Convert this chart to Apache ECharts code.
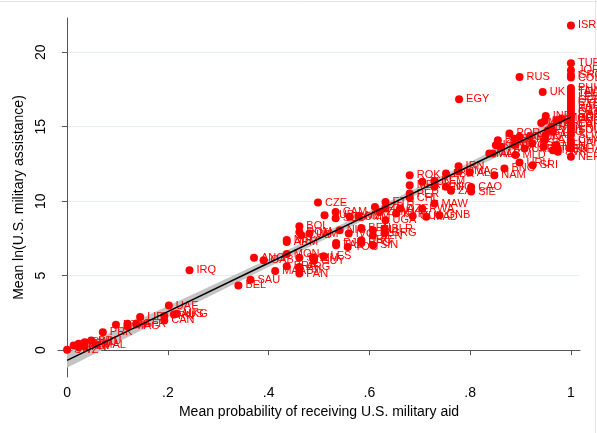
<!DOCTYPE html>
<html>
<head>
<meta charset="utf-8">
<script src="https://cdn.jsdelivr.net/npm/echarts@6/dist/echarts.min.js"></script>
<style>
html,body{margin:0;padding:0;background:#fff}
#chart{width:597px;height:433px}
</style>
</head>
<body>
<div id="chart"></div>
<script>
// country codes, mean probability of aid, mean ln(aid)
var codes = [
	"SWZ","AUL","NEW","JPN","SWD","FIN","BRU","MAL","PRK","NTH",
	"ITA","MAG","GFR","LIB","FRN","CAN","UAE","AUS","UKG","IRQ",
	"BEL","SAU","ANG","GAB","MAA","BRA","MON","ARM","NIR","BOL",
	"DOM","CUB","JAM","SYR","ARG","FJI","PAN","ZIM","GUY","LES",
	"CZE","SUR","CAM","SUD","TAZ","DJI","NIC","TOG","IVO","SOM",
	"MZM","BEN","DRC","BFO","MLI","SEN","SIN","UZB","ZAM","BLR",
	"GRG","ETH","LAO","UGA","KYR","AZE","ROK","MEX","PER","CHL",
	"GUI","TUN","RWA","MAD","YEM","KEN","MAW","GNB","LBR","NIG",
	"ZAI","IRN","OMA","ALG","CAO","SIE","NAM","MAC","ALB","KZK",
	"BUL","ROM","POR","SPN","CRO","POL","MLD","UKR","HUN","EST",
	"URU","SRI","BNG","EGY","RUS","UK","IND","INS","MYA","ECU",
	"PAK","LAT","LIT","HON","GUA","MOR","YUG","TAJ","SVK","VEN",
	"ISR","TUR","JOR","GRC","COL","PHI","TAW","THI","LEB","GEO",
	"CYP","BAH","KUW","QAT","SRB","BOS","PNG","CAP","ERI","SOL",
	"SLV","CHA","HAI","GHA","NER","CEN"
];
var meanProb = [
	0.000,0.013,0.023,0.023,0.035,0.035,0.048,0.058,0.071,0.097,
	0.120,0.120,0.137,0.145,0.193,0.193,0.202,0.212,0.218,0.243,
	0.340,0.364,0.371,0.390,0.413,0.436,0.436,0.436,0.436,0.461,
	0.461,0.465,0.481,0.461,0.461,0.461,0.461,0.488,0.490,0.509,
	0.498,0.511,0.533,0.533,0.534,0.534,0.541,0.557,0.559,0.561,
	0.578,0.584,0.584,0.584,0.607,0.607,0.607,0.611,0.620,0.630,
	0.630,0.632,0.632,0.632,0.653,0.661,0.680,0.680,0.680,0.680,
	0.686,0.705,0.705,0.713,0.729,0.729,0.729,0.739,0.752,0.752,
	0.762,0.777,0.777,0.799,0.802,0.802,0.848,0.838,0.845,0.851,
	0.855,0.862,0.878,0.888,0.888,0.898,0.890,0.908,0.918,0.923,
	0.898,0.924,0.868,0.778,0.898,0.944,0.950,0.948,0.941,0.954,
	0.950,0.948,0.946,0.961,0.971,0.981,0.964,0.964,0.974,0.971,
	1,1,1,1,1,1,1,1,1,1,
	1,1,1,1,1,1,1,1,1,1,
	1,1,1,1,1,0.974
];
var meanLnAid = [
	0.03,0.31,0.43,0.20,0.54,0.25,0.65,0.38,1.21,1.71,
	1.77,1.60,1.75,2.22,2.29,2.00,3.00,2.40,2.44,5.36,
	4.35,4.73,6.21,6.03,5.31,5.63,6.45,7.26,7.40,8.32,
	7.94,7.71,7.83,6.21,5.58,5.41,5.14,6.21,6.00,6.30,
	9.91,9.06,9.28,8.85,7.04,7.20,8.05,6.93,7.83,8.95,
	9.00,8.20,7.38,7.20,8.05,7.70,7.04,9.62,9.28,8.16,
	7.85,9.95,9.51,8.72,9.17,9.51,11.75,11.08,10.52,10.25,
	9.00,11.30,9.50,8.95,11.36,10.97,9.84,9.06,11.86,10.97,
	10.70,12.35,12.00,11.93,10.96,10.65,11.75,13.20,13.20,13.75,
	14.10,13.65,14.55,14.20,13.77,14.33,13.10,13.54,14.33,13.88,
	12.60,12.42,12.20,16.84,18.34,17.33,15.72,15.40,15.25,14.77,
	14.44,14.10,13.65,15.00,15.44,15.56,14.66,13.43,13.32,13.77,
	21.80,19.26,18.80,18.47,18.30,17.60,17.40,17.20,17.00,16.80,
	16.60,16.40,16.20,16.00,15.80,15.60,15.40,15.20,15.00,14.80,
	14.44,14.10,13.88,13.54,12.98,13.50
];

// linear fit and 95% CI
var fitX = [0, 0.2, 0.4, 0.6, 0.8, 1];
var fitY = [-0.68, 2.59, 5.85, 9.12, 12.38, 15.65];
var fitLower = [-1.18, 2.22, 5.58, 8.90, 12.13, 15.25];
var fitUpper = [-0.18, 2.96, 6.12, 9.34, 12.63, 16.05];

var xTicks = [0, 0.2, 0.4, 0.6, 0.8, 1];
var yTicks = [0, 5, 10, 15, 20];

var fontName = "'Liberation Sans', Arial, sans-serif";

var myChart = echarts.init(document.getElementById("chart"), null, {renderer: "canvas"});

function fmtX(v){
	if(v === 0) return "0";
	if(v === 1) return "1";
	return String(+v.toFixed(1)).replace(/^0/, "");
}

var points = codes.map(function(c, i){
	return [meanProb[i], meanLnAid[i], c];
});

var option = {
	backgroundColor: "#fff",
	animation: false,
	textStyle: {fontFamily: fontName},
	graphic: [
		{type: "line", shape: {x1: 0, y1: 1.5, x2: 597, y2: 1.5}, style: {stroke: "#e6e6e6", lineWidth: 1}},
		{type: "line", shape: {x1: 595.5, y1: 0, x2: 595.5, y2: 433}, style: {stroke: "#e6e6e6", lineWidth: 1}}
	],
	grid: {left: 58, top: 18, right: 17, bottom: 56},
	xAxis: {
		type: "value",
		min: -0.018,
		max: 1.018,
		name: "Mean probability of receiving U.S. military aid",
		nameLocation: "middle",
		nameGap: 27,
		nameTextStyle: {color: "#000", fontSize: 14, fontFamily: fontName},
		axisLine: {show: true, lineStyle: {color: "#555", width: 1}},
		axisTick: {show: true, length: 5, customValues: xTicks, lineStyle: {color: "#555"}},
		axisLabel: {customValues: xTicks, formatter: fmtX, color: "#000", fontSize: 14, margin: 9, fontFamily: fontName},
		splitLine: {show: false}
	},
	yAxis: {
		type: "value",
		min: -1.8,
		max: 22.3,
		name: "Mean ln(U.S. military assistance)",
		nameLocation: "middle",
		nameRotate: 90,
		nameGap: 28,
		nameTextStyle: {color: "#000", fontSize: 14, fontFamily: fontName},
		axisLine: {show: true, lineStyle: {color: "#555", width: 1}},
		axisTick: {show: true, length: 5, customValues: yTicks, lineStyle: {color: "#555"}},
		axisLabel: {customValues: yTicks, rotate: 90, color: "#000", fontSize: 14, margin: 10, fontFamily: fontName},
		splitLine: {show: false}
	},
	series: [
		{
			// CI band
			type: "custom",
			z: 1,
			silent: true,
			data: [0],
			renderItem: function(params, api){
				var pts = [];
				for(var i = 0; i < fitX.length; i++){
					pts.push(api.coord([fitX[i], fitUpper[i]]));
				}
				for(var j = fitX.length - 1; j >= 0; j--){
					pts.push(api.coord([fitX[j], fitLower[j]]));
				}
				return {type: "polygon", shape: {points: pts}, style: {fill: "#c4c4c4"}};
			}
		},
		{
			type: "scatter",
			z: 3,
			symbol: "circle",
			symbolSize: 8,
			data: points,
			itemStyle: {color: "#ff0000", opacity: 1},
			label: {
				show: true,
				position: "right",
				distance: 3,
				formatter: function(p){ return p.value[2]; },
				color: "#ff0000",
				fontSize: 11,
				fontFamily: fontName
			},
			markLine: {
				silent: true,
				symbol: "none",
				label: {show: false},
				z: 0,
				lineStyle: {color: "#e8eff1", width: 1, type: "solid"},
				data: yTicks.map(function(v){ return {yAxis: v}; })
			}
		},
		{
			type: "line",
			z: 4,
			silent: true,
			symbol: "none",
			data: fitX.map(function(x, i){ return [x, fitY[i]]; }),
			lineStyle: {color: "#000", width: 1.5}
		}
	]
};

myChart.setOption(option);
</script>
</body>
</html>
